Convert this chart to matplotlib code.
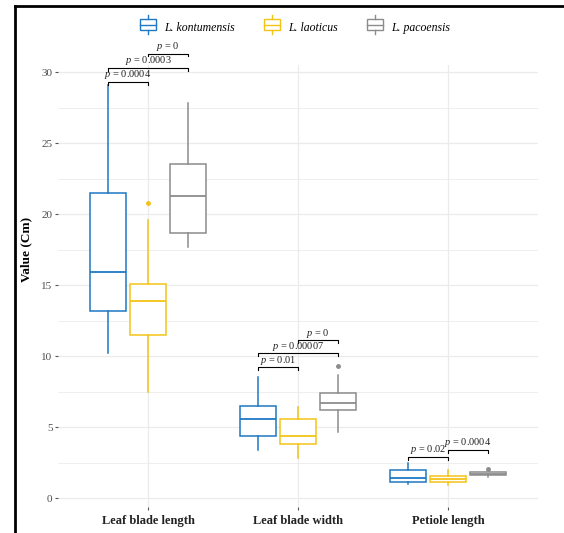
import numpy as np
import matplotlib.pyplot as plt
from matplotlib.lines import Line2D
from matplotlib.patches import Rectangle
from matplotlib.legend_handler import HandlerBase

plt.rcParams['font.family'] = ['Liberation Serif', 'DejaVu Serif']
plt.rcParams['mathtext.fontset'] = 'custom'
plt.rcParams['mathtext.it'] = 'Liberation Serif:italic'
plt.rcParams['mathtext.rm'] = 'Liberation Serif'

# данные
categories = ["Leaf blade length", "Leaf blade width", "Petiole length"]
species = ["L. kontumensis", "L. laoticus", "L. pacoensis"]
colors = ["#1F78C4", "#F2C418", "#8C8C8C"]

whislo = [[10.2, 3.4, 1.0], [7.5, 2.8, 0.92], [17.7, 4.65, 1.5]]
q1 = [[13.2, 4.4, 1.13], [11.5, 3.8, 1.13], [18.7, 6.2, 1.65]]
med = [[15.95, 5.56, 1.4], [13.9, 4.4, 1.34], [21.3, 6.7, 1.72]]
q3 = [[21.5, 6.5, 1.97], [15.1, 5.56, 1.55], [23.5, 7.4, 1.8]]
whishi = [[29.1, 8.5, 2.46], [19.6, 6.4, 2.0], [27.8, 8.66, 1.85]]
fliers = [[[], [], []], [[20.8], [], []], [[], [9.3], [2.05]]]

# (категория, вид 1, вид 2, высота скобки, p)
comparisons = [
    (0, 0, 1, 29.3, "0.0004"),
    (0, 0, 2, 30.3, "0.0003"),
    (0, 1, 2, 31.3, "0"),
    (1, 0, 1, 9.2, "0.01"),
    (1, 0, 2, 10.2, "0.00007"),
    (1, 1, 2, 11.1, "0"),
    (2, 0, 1, 2.9, "0.02"),
    (2, 1, 2, 3.4, "0.0004"),
]

offset = 0.267
box_w = 0.235

fig = plt.figure(figsize=(5.64, 5.33), dpi=100)
ax = fig.add_axes([58 / 564, 1 - 507 / 533, 480 / 564, 442 / 533])

for s in range(3):
    stats = []
    for c in range(3):
        stats.append(dict(med=med[s][c], q1=q1[s][c], q3=q3[s][c],
                          whislo=whislo[s][c], whishi=whishi[s][c],
                          fliers=fliers[s][c]))
    pos = [c + 1 + (s - 1) * offset for c in range(3)]
    col = colors[s]
    ax.bxp(stats, positions=pos, widths=box_w, showcaps=False, patch_artist=True,
           boxprops=dict(facecolor='white', edgecolor=col, linewidth=1.1),
           medianprops=dict(color=col, linewidth=1.3),
           whiskerprops=dict(color=col, linewidth=1.1),
           flierprops=dict(marker='o', markerfacecolor=col, markeredgecolor=col,
                           markersize=2.5), zorder=3)

tick = 0.2
for c, a, b, y, p in comparisons:
    x1 = c + 1 + (a - 1) * offset
    x2 = c + 1 + (b - 1) * offset
    ax.plot([x1, x1, x2, x2], [y - tick, y, y, y - tick], color='black', lw=0.8,
            zorder=4, clip_on=False)
    ax.text((x1 + x2) / 2, y + 0.05, "$p$ = " + p, ha='center', va='bottom',
            fontsize=7.5, color='#222222', zorder=5, clip_on=False)

ax.set_xlim(0.4, 3.6)
ax.set_ylim(-0.63, 30.5)
ax.set_xticks([1, 2, 3])
ax.set_xticklabels(categories, fontweight='bold', fontsize=9, color='#222222')
ax.set_yticks(np.arange(0, 31, 5))
ax.set_yticks(np.arange(2.5, 30, 5), minor=True)
ax.tick_params(axis='y', which='major', length=2, color='#555555', labelcolor='#4D4D4D',
               labelsize=8, pad=2)
ax.tick_params(axis='y', which='minor', length=0)
ax.tick_params(axis='x', length=2, color='#555555', pad=4)
ax.grid(True, which='major', color='#EBEBEB', lw=0.9)
ax.grid(True, which='minor', axis='y', color='#EBEBEB', lw=0.6)
ax.set_axisbelow(True)
for sp in ax.spines.values():
    sp.set_visible(False)
fig.text(26 / 564, 1 - 249 / 533, "Value (Cm)", rotation=90, ha='center', va='center',
         fontweight='bold', fontsize=9.5)


class BoxHandler(HandlerBase):
    def create_artists(self, legend, orig, xd, yd, w, h, fontsize, trans):
        col = orig.get_edgecolor()
        cx = xd + w / 2
        bw = w * 0.9
        r = Rectangle((cx - bw / 2, yd), bw, h, facecolor='white', edgecolor=col,
                      lw=1.0, transform=trans)
        m = Line2D([cx - bw / 2, cx + bw / 2], [yd + h / 2] * 2, color=col, lw=1.0, transform=trans)
        w1 = Line2D([cx, cx], [yd + h, yd + h + 3], color=col, lw=1.0, transform=trans)
        w2 = Line2D([cx, cx], [yd, yd - 3], color=col, lw=1.0, transform=trans)
        return [r, m, w1, w2]


handles = [Rectangle((0, 0), 1, 1, facecolor='white', edgecolor=c) for c in colors]
fig.legend(handles, species, handler_map={Rectangle: BoxHandler()}, loc='center',
           bbox_to_anchor=(0.522, 1 - 28 / 533), ncol=3, frameon=False,
           prop=dict(style='italic', size=8.5), handlelength=1.5, handleheight=1.0,
           columnspacing=2.4, handletextpad=0.6)

# чёрная рамка слева и сверху
fig.add_artist(Line2D([15 / 564, 15 / 564], [0, 1 - 6 / 533], color='black', lw=2))
fig.add_artist(Line2D([15 / 564, 563 / 564], [1 - 6 / 533, 1 - 6 / 533], color='black', lw=2))

fig.savefig("out.png", dpi=100)
